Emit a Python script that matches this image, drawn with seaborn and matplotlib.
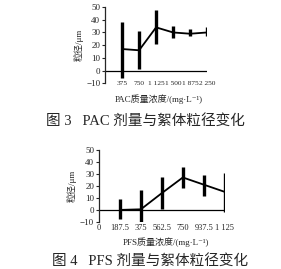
import numpy as np
import seaborn as sns
import matplotlib.pyplot as plt

# PAC data (figure 3)
pac_x = [375, 750, 1125, 1500, 1875, 2250]
pac_y = [17, 16, 34, 30, 29, 30]
pac_lo = [-6, 1.5, 21, 26, 27, 27]
pac_hi = [38, 31, 48, 35, 33, 34]
pac_ticks = [375, 750, 1125, 1500, 1875, 2250]
pac_labels = ["375", "750", "1 125", "1 500", "1 875", "2 250"]

# PFS data (figure 4)
pfs_x = [187.5, 375, 562.5, 750, 937.5, 1125]
pfs_y = [0, 0.5, 14, 27, 21, 15]
pfs_lo = [-7.5, -10, 0.8, 18, 11.5, -2]
pfs_hi = [9, 16.5, 27, 36, 29, 31]
pfs_ticks = [0, 187.5, 375, 562.5, 750, 937.5, 1125]
pfs_labels = ["0", "187.5", "375", "562.5", "750", "937.5", "1 125"]

y_ticks = [-10, 0, 10, 20, 30, 40, 50]

sns.set_style("ticks")
plt.rcParams["font.family"] = ["Liberation Serif", "Noto Sans CJK SC", "DejaVu Sans"]

fig = plt.figure(figsize=(2.81, 2.69), dpi=100)
ax1 = fig.add_axes([0.374, 0.690, 0.363, 0.284])
ax2 = fig.add_axes([0.352, 0.175, 0.448, 0.268])


def draw(ax, x, y, lo, hi, xmax, ticks, labels, xpad, xsize):
    sns.lineplot(x=x, y=y, color="black", lw=1.3, ax=ax)
    ax.vlines(x, lo, hi, color="black", lw=2.4)
    ax.axhline(0, color="black", lw=0.9)
    ax.set_xlim(0, xmax)
    ax.set_ylim(-10, 50)
    ax.set_yticks(y_ticks)
    ax.set_xticks(ticks)
    ax.set_xticklabels(labels)
    for s in ["top", "right", "bottom"]:
        ax.spines[s].set_visible(False)
    ax.spines["left"].set_linewidth(0.9)
    ax.tick_params(axis="x", length=0, pad=xpad, labelsize=xsize)
    ax.tick_params(axis="y", length=2, width=0.8, pad=1.5, labelsize=6.5)
    ax.set_ylabel("粒径/μm", fontsize=6.5, labelpad=2)
    ax.set_xlabel("")


draw(ax1, pac_x, pac_y, pac_lo, pac_hi, 2250, pac_ticks, pac_labels, -2, 5.3)
draw(ax2, pfs_x, pfs_y, pfs_lo, pfs_hi, 1125, pfs_ticks, pfs_labels, 1.5, 6)

fig.text(0.566, 0.632, "PAC质量浓度/(mg·L⁻¹)", ha="center", va="center", fontsize=6.5)
fig.text(0.59, 0.100, "PFS质量浓度/(mg·L⁻¹)", ha="center", va="center", fontsize=6.5)
fig.text(0.516, 0.55, "图 3   PAC 剂量与絮体粒径变化", ha="center", va="center",
         fontsize=10.5)
fig.text(0.534, 0.030, "图 4   PFS 剂量与絮体粒径变化", ha="center", va="center",
         fontsize=10.5)

fig.savefig("out.png", dpi=100)
